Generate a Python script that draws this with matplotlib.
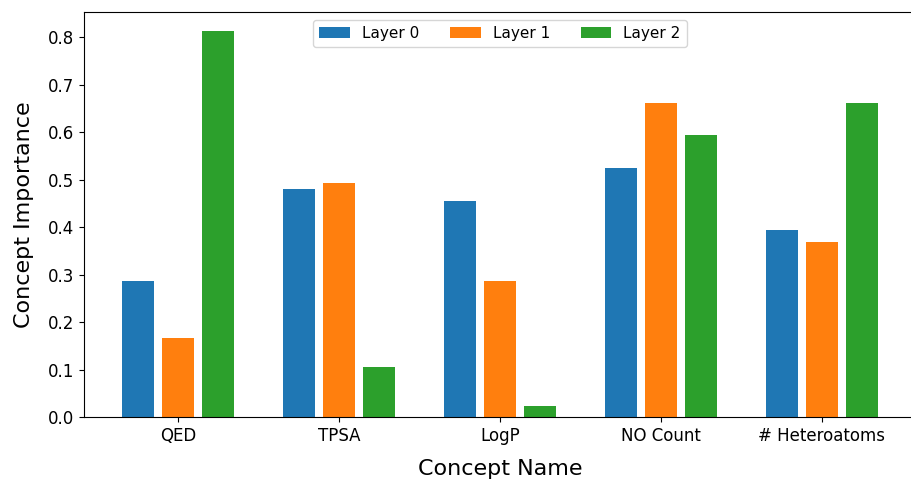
import matplotlib
matplotlib.use("Agg")
import matplotlib.pyplot as plt
import numpy as np

concepts = ['QED', 'TPSA', 'LogP', 'NO Count', '# Heteroatoms']
layer0 = [0.286, 0.480, 0.455, 0.524, 0.394]
layer1 = [0.167, 0.493, 0.286, 0.662, 0.368]
layer2 = [0.813, 0.105, 0.023, 0.594, 0.662]
series = [('Layer 0', layer0), ('Layer 1', layer1), ('Layer 2', layer2)]

fig = plt.figure(figsize=(9.11, 4.79), dpi=100)
ax = fig.add_axes([84 / 911, 62 / 479, 832 / 911, 405 / 479])

x = np.arange(len(concepts))
w = 0.2
offsets = [-0.25, 0, 0.25]
for (name, vals), off in zip(series, offsets):
    ax.bar(x + off, vals, w, label=name)

ax.set_xlim(-0.584, 4.584)
ax.set_xticks(x)
ax.set_xticklabels(concepts, fontsize=12)
ax.tick_params(axis='y', labelsize=12)
ax.set_xlabel('Concept Name', fontsize=16, labelpad=10)
ax.set_ylabel('Concept Importance', fontsize=16, labelpad=10)
ax.legend(loc='upper center', ncol=3, fontsize=11)

fig.savefig('out.png', dpi=100)
